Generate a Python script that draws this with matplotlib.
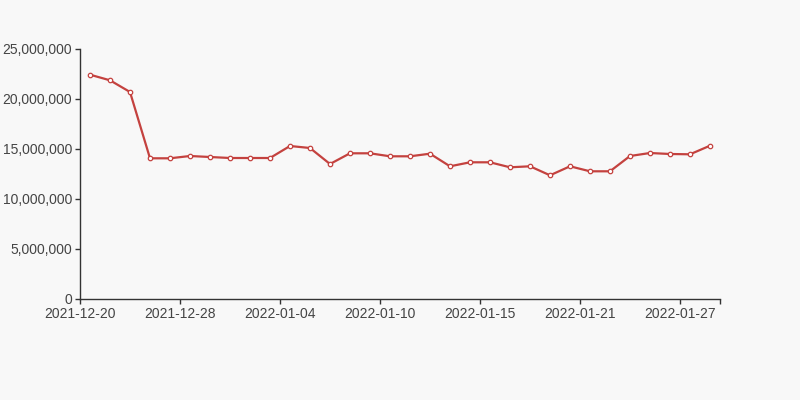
import matplotlib.pyplot as plt
from matplotlib.ticker import FuncFormatter

# dates on the category axis (only every 5th one is labelled)
dates = [
    "2021-12-20", "2021-12-21", "2021-12-22", "2021-12-23", "2021-12-27",
    "2021-12-28", "2021-12-29", "2021-12-30", "2021-12-31", "2022-01-03",
    "2022-01-04", "2022-01-05", "2022-01-06", "2022-01-07", "2022-01-09",
    "2022-01-10", "2022-01-11", "2022-01-12", "2022-01-13", "2022-01-14",
    "2022-01-15", "2022-01-17", "2022-01-18", "2022-01-19", "2022-01-20",
    "2022-01-21", "2022-01-22", "2022-01-24", "2022-01-25", "2022-01-26",
    "2022-01-27", "2022-01-28",
]
values = [
    22430000, 21870000, 20700000, 14070000, 14070000,
    14300000, 14200000, 14100000, 14100000, 14100000,
    15300000, 15100000, 13500000, 14570000, 14570000,
    14270000, 14270000, 14530000, 13270000, 13670000,
    13670000, 13170000, 13270000, 12370000, 13270000,
    12770000, 12770000, 14300000, 14600000, 14500000,
    14470000, 15330000,
]
y_ticks = [0, 5000000, 10000000, 15000000, 20000000, 25000000]

bg = "#f8f8f8"
red = "#c4423f"
axis_col = "#333333"
text_col = "#444444"

plt.rcParams["font.family"] = ["Liberation Sans", "DejaVu Sans"]

fig = plt.figure(figsize=(8, 4), dpi=100, facecolor=bg)
ax = fig.add_axes([0.1, 0.2525, 0.8, 0.625], facecolor=bg)

n = len(dates)
xs = [i + 0.5 for i in range(n)]
ax.plot(xs, values, color=red, linewidth=1.6, marker="o", markersize=3.2,
        markerfacecolor="white", markeredgecolor=red, markeredgewidth=0.9,
        zorder=3)

ax.set_xlim(0, n)
ax.set_ylim(0, 25000000)

tick_pos = list(range(0, n, 5)) + [n]
tick_lab = [dates[i] for i in range(0, n, 5)] + [""]
ax.set_xticks(tick_pos)
ax.set_xticklabels(tick_lab)
ax.set_yticks(y_ticks)
ax.yaxis.set_major_formatter(FuncFormatter(lambda v, p: f"{int(v):,}"))

for s in ["top", "right"]:
    ax.spines[s].set_visible(False)
for s in ["left", "bottom"]:
    ax.spines[s].set_color(axis_col)
    ax.spines[s].set_linewidth(1)

ax.tick_params(axis="both", direction="out", length=3.6, width=1,
               color=axis_col, labelcolor=text_col, labelsize=10, pad=2)

fig.savefig("out.png", dpi=100, facecolor=bg)
